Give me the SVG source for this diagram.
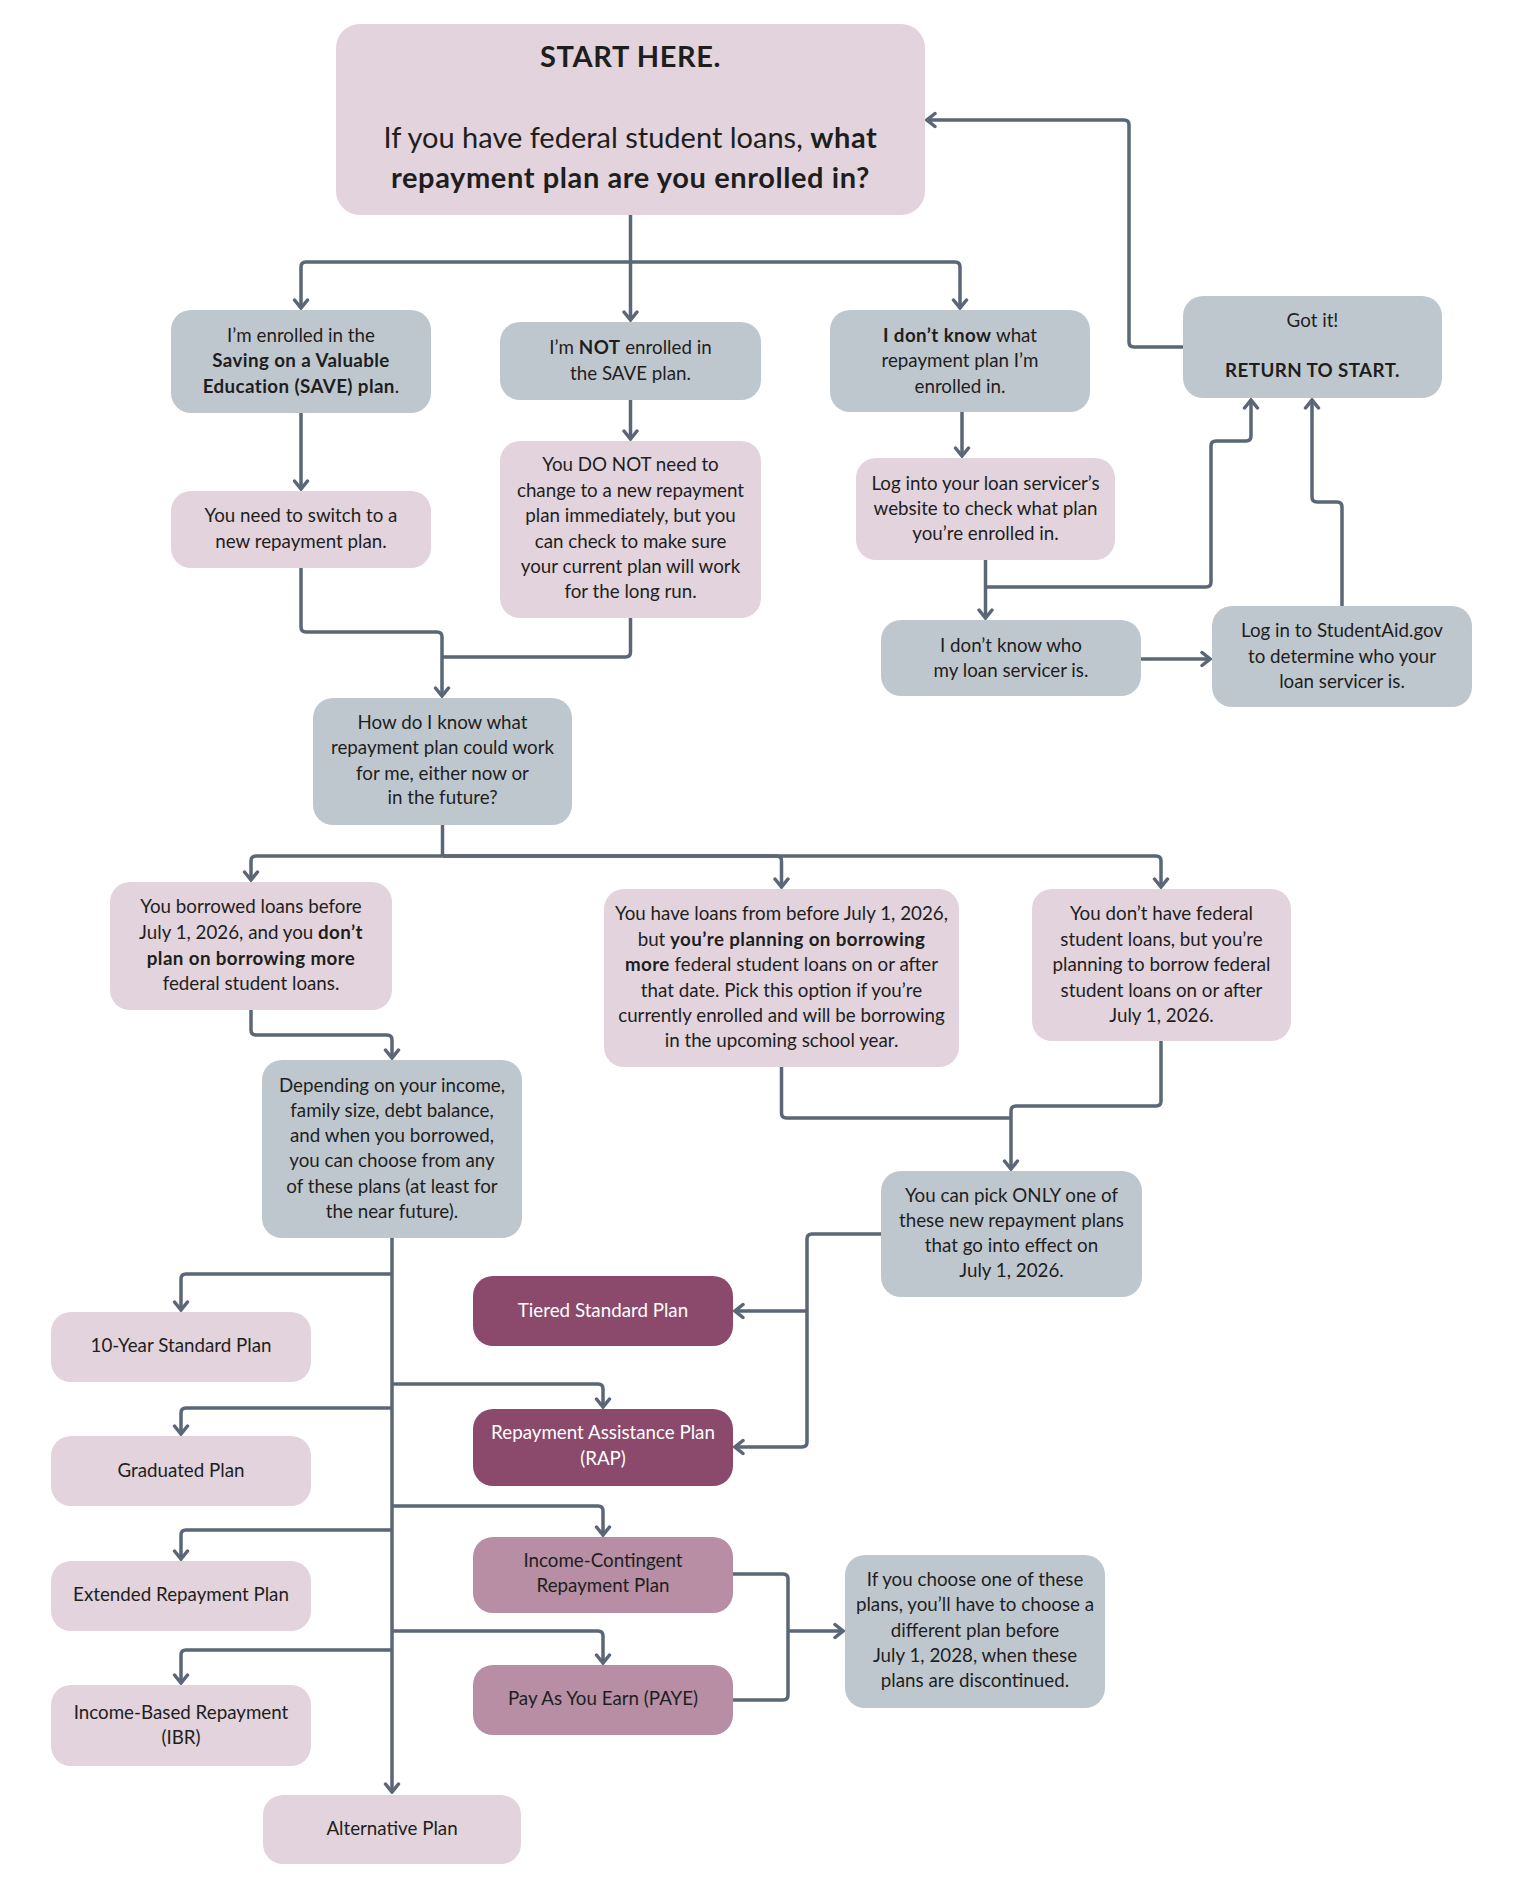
<svg xmlns="http://www.w3.org/2000/svg" width="1513" height="1890" viewBox="0 0 1513 1890">
<style>
.pk{fill:#e2d3dc}.gy{fill:#bfc7ce}.dk{fill:#8b4a6c}.md{fill:#b78ea4}
text{font-family:Lato,'Open Sans',sans-serif;font-size:18.75px;fill:#1e1e1e;text-anchor:middle}
.b{font-weight:bold;letter-spacing:0.4px}
.ttl{font-size:29px}
.ttl .b,.ttl.b{letter-spacing:0.6px}
.w{fill:#ffffff}
.c{fill:none;stroke:#5b6676;stroke-width:3.5;stroke-linejoin:round}
.a{marker-end:url(#ah)}
</style>
<defs>
<marker id="ah" markerUnits="userSpaceOnUse" viewBox="-11 -9 13 18" refX="0" refY="0" markerWidth="13" markerHeight="18" orient="auto">
<path d="M-8,-6.5 L0,0 L-8,6.5" fill="none" stroke="#5b6676" stroke-width="3.5" stroke-linejoin="miter" stroke-linecap="round"/>
</marker>
</defs>
<rect width="1513" height="1890" fill="#ffffff"/>

<g id="connectors">
<path class="c a" d="M630.5 215 V320"/>
<path class="c a" d="M630.5 262 H306 Q301 262 301 267 V308"/>
<path class="c a" d="M630.5 262 H955 Q960 262 960 267 V308"/>
<path class="c a" d="M301 413 V489"/>
<path class="c a" d="M630.5 400 V439"/>
<path class="c a" d="M962 412 V456"/>
<path class="c a" d="M985.5 560 V618"/>
<path class="c a" d="M985.5 587 H1206 Q1211 587 1211 582 V446 Q1211 441 1216 441 H1246 Q1251 441 1251 436 V400"/>
<path class="c a" d="M1141 659 H1210"/>
<path class="c a" d="M1342 606 V507 Q1342 502 1337 502 H1317 Q1312 502 1312 497 V400"/>
<path class="c a" d="M1183 347 H1134 Q1129 347 1129 342 V125 Q1129 120 1124 120 H927"/>
<path class="c a" d="M301 568 V627 Q301 632 306 632 H437 Q442 632 442 637 V696"/>
<path class="c" d="M630.5 618 V652 Q630.5 657 625.5 657 H442"/>
<path class="c" d="M442.5 825 V856"/>
<path class="c a" d="M442.5 856 H256 Q251 856 251 861 V880"/>
<path class="c a" d="M442.5 856 H776.5 Q781.5 856 781.5 861 V887"/>
<path class="c a" d="M442.5 856 H1156 Q1161 856 1161 861 V887"/>
<path class="c a" d="M251 1010 V1030 Q251 1035 256 1035 H387 Q392 1035 392 1040 V1058"/>
<path class="c" d="M781.5 1067 V1113 Q781.5 1118 786.5 1118 H1011"/>
<path class="c a" d="M1161 1041 V1101 Q1161 1106 1156 1106 H1016 Q1011 1106 1011 1111 V1169"/>
<path class="c a" d="M392 1238 V1792"/>
<path class="c a" d="M392 1274 H186 Q181 1274 181 1279 V1310"/>
<path class="c a" d="M392 1408 H186 Q181 1408 181 1413 V1434"/>
<path class="c a" d="M392 1530 H186 Q181 1530 181 1535 V1559"/>
<path class="c a" d="M392 1650 H186 Q181 1650 181 1655 V1683"/>
<path class="c a" d="M392 1384 H598 Q603 1384 603 1389 V1407"/>
<path class="c a" d="M392 1506 H598 Q603 1506 603 1511 V1535"/>
<path class="c a" d="M392 1631 H598 Q603 1631 603 1636 V1663"/>
<path class="c a" d="M881 1234 H812 Q807 1234 807 1239 V1442 Q807 1447 802 1447 H735"/>
<path class="c a" d="M807 1311 H735"/>
<path class="c" d="M733 1574 H783 Q788 1574 788 1579 V1695 Q788 1700 783 1700 H733"/>
<path class="c a" d="M788 1631 H843"/>
</g>

<g id="start">
<rect class="pk" x="336" y="24" width="589" height="191" rx="24"/>
<text class="ttl b" x="630.5" y="67">START HERE.</text>
<text class="ttl" x="630.5" y="148">If you have federal student loans, <tspan class="b">what</tspan></text>
<text class="ttl b" x="630.5" y="188">repayment plan are you enrolled in?</text>
</g>

<g id="save">
<rect class="gy" x="171" y="310" width="260" height="103" rx="20"/>
<text x="301" y="342">I’m enrolled in the</text>
<text class="b" x="301" y="367">Saving on a Valuable</text>
<text x="301" y="393"><tspan class="b">Education (SAVE) plan</tspan>.</text>
</g>

<g id="notsave">
<rect class="gy" x="500" y="322" width="261" height="78" rx="20"/>
<text x="630.5" y="354">I’m <tspan class="b">NOT</tspan> enrolled in</text>
<text x="630.5" y="380">the SAVE plan.</text>
</g>

<g id="dontknow">
<rect class="gy" x="830" y="310" width="260" height="102" rx="20"/>
<text x="960" y="342"><tspan class="b">I don’t know</tspan> what</text>
<text x="960" y="367">repayment plan I’m</text>
<text x="960" y="393">enrolled in.</text>
</g>

<g id="gotit">
<rect class="gy" x="1183" y="296" width="259" height="102" rx="20"/>
<text x="1312.5" y="327">Got it!</text>
<text class="b" x="1312.5" y="377">RETURN TO START.</text>
</g>

<g id="switch">
<rect class="pk" x="171" y="491" width="260" height="77" rx="20"/>
<text x="301" y="522">You need to switch to a</text>
<text x="301" y="548">new repayment plan.</text>
</g>

<g id="donot">
<rect class="pk" x="500" y="441" width="261" height="177" rx="20"/>
<text x="630.5" y="471">You DO NOT need to</text>
<text x="630.5" y="497">change to a new repayment</text>
<text x="630.5" y="522">plan immediately, but you</text>
<text x="630.5" y="548">can check to make sure</text>
<text x="630.5" y="573">your current plan will work</text>
<text x="630.5" y="598">for the long run.</text>
</g>

<g id="login">
<rect class="pk" x="856" y="458" width="259" height="102" rx="20"/>
<text x="985.5" y="490">Log into your loan servicer’s</text>
<text x="985.5" y="515">website to check what plan</text>
<text x="985.5" y="540">you’re enrolled in.</text>
</g>

<g id="whoservicer">
<rect class="gy" x="881" y="620" width="260" height="76" rx="20"/>
<text x="1011" y="652">I don’t know who</text>
<text x="1011" y="677">my loan servicer is.</text>
</g>

<g id="studentaid">
<rect class="gy" x="1212" y="606" width="260" height="101" rx="20"/>
<text x="1342" y="637">Log in to StudentAid.gov</text>
<text x="1342" y="663">to determine who your</text>
<text x="1342" y="688">loan servicer is.</text>
</g>

<g id="howknow">
<rect class="gy" x="313" y="698" width="259" height="127" rx="20"/>
<text x="442.5" y="729">How do I know what</text>
<text x="442.5" y="754">repayment plan could work</text>
<text x="442.5" y="780">for me, either now or</text>
<text x="442.5" y="804">in the future?</text>
</g>

<g id="borrowed">
<rect class="pk" x="110" y="882" width="282" height="128" rx="20"/>
<text x="251" y="913">You borrowed loans before</text>
<text x="251" y="939">July 1, 2026, and you <tspan class="b">don’t</tspan></text>
<text class="b" x="251" y="965">plan on borrowing more</text>
<text x="251" y="990">federal student loans.</text>
</g>

<g id="haveloans">
<rect class="pk" x="604" y="889" width="355" height="178" rx="20"/>
<text x="781.5" y="920">You have loans from before July 1, 2026,</text>
<text x="781.5" y="946">but <tspan class="b">you’re planning on borrowing</tspan></text>
<text x="781.5" y="971"><tspan class="b">more</tspan> federal student loans on or after</text>
<text x="781.5" y="997">that date. Pick this option if you’re</text>
<text x="781.5" y="1022">currently enrolled and will be borrowing</text>
<text x="781.5" y="1047">in the upcoming school year.</text>
</g>

<g id="nofederal">
<rect class="pk" x="1032" y="889" width="259" height="152" rx="20"/>
<text x="1161.5" y="920">You don’t have federal</text>
<text x="1161.5" y="946">student loans, but you’re</text>
<text x="1161.5" y="971">planning to borrow federal</text>
<text x="1161.5" y="997">student loans on or after</text>
<text x="1161.5" y="1022">July 1, 2026.</text>
</g>

<g id="depending">
<rect class="gy" x="262" y="1060" width="260" height="178" rx="20"/>
<text x="392" y="1092">Depending on your income,</text>
<text x="392" y="1117">family size, debt balance,</text>
<text x="392" y="1142">and when you borrowed,</text>
<text x="392" y="1167">you can choose from any</text>
<text x="392" y="1193">of these plans (at least for</text>
<text x="392" y="1218">the near future).</text>
</g>

<g id="onlyone">
<rect class="gy" x="881" y="1171" width="261" height="126" rx="20"/>
<text x="1011.5" y="1202">You can pick ONLY one of</text>
<text x="1011.5" y="1227">these new repayment plans</text>
<text x="1011.5" y="1252">that go into effect on</text>
<text x="1011.5" y="1277">July 1, 2026.</text>
</g>

<g id="tiered">
<rect class="dk" x="473" y="1276" width="260" height="70" rx="20"/>
<text class="w" x="603" y="1317">Tiered Standard Plan</text>
</g>

<g id="rap">
<rect class="dk" x="473" y="1409" width="260" height="77" rx="20"/>
<text class="w" x="603" y="1439">Repayment Assistance Plan</text>
<text class="w" x="603" y="1465">(RAP)</text>
</g>

<g id="icr">
<rect class="md" x="473" y="1537" width="260" height="76" rx="20"/>
<text x="603" y="1567">Income-Contingent</text>
<text x="603" y="1592">Repayment Plan</text>
</g>

<g id="paye">
<rect class="md" x="473" y="1665" width="260" height="70" rx="20"/>
<text x="603" y="1705">Pay As You Earn (PAYE)</text>
</g>

<g id="choose">
<rect class="gy" x="845" y="1555" width="260" height="153" rx="20"/>
<text x="975" y="1586">If you choose one of these</text>
<text x="975" y="1611">plans, you’ll have to choose a</text>
<text x="975" y="1637">different plan before</text>
<text x="975" y="1662">July 1, 2028, when these</text>
<text x="975" y="1687">plans are discontinued.</text>
</g>

<g id="tenyear">
<rect class="pk" x="51" y="1312" width="260" height="70" rx="20"/>
<text x="181" y="1352">10-Year Standard Plan</text>
</g>

<g id="graduated">
<rect class="pk" x="51" y="1436" width="260" height="70" rx="20"/>
<text x="181" y="1477">Graduated Plan</text>
</g>

<g id="extended">
<rect class="pk" x="51" y="1561" width="260" height="70" rx="20"/>
<text x="181" y="1601">Extended Repayment Plan</text>
</g>

<g id="ibr">
<rect class="pk" x="51" y="1685" width="260" height="81" rx="20"/>
<text x="181" y="1719">Income-Based Repayment</text>
<text x="181" y="1744">(IBR)</text>
</g>

<g id="alternative">
<rect class="pk" x="263" y="1795" width="258" height="69" rx="20"/>
<text x="392" y="1835">Alternative Plan</text>
</g>
</svg>
